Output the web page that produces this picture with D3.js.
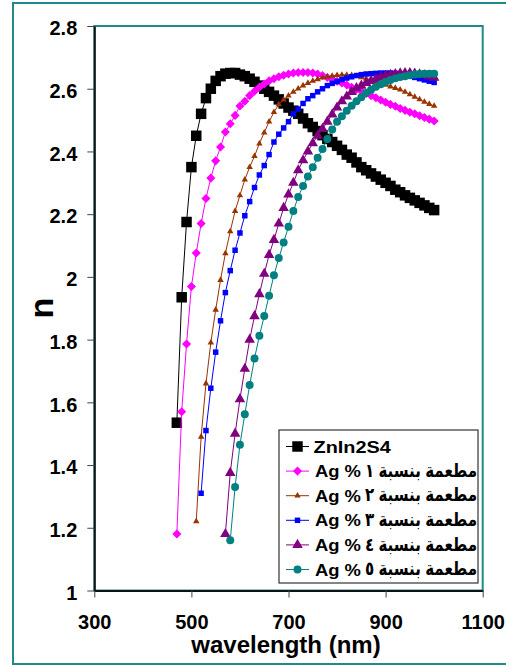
<!DOCTYPE html>
<html>
<head>
<meta charset="utf-8">
<script src="https://cdn.jsdelivr.net/npm/d3@7"></script>
<style>
  body { margin: 0; background: #fff; }
  svg { display: block; }
  text { font-family: "Liberation Sans", Arial, "DejaVu Sans", sans-serif; font-weight: bold; }
</style>
</head>
<body>
<script>
// wavelength grid (nm) shared by all series
var wavelengths = [470, 480, 490, 500, 510, 520, 530, 540, 550, 560, 570, 580, 590, 600,
  610, 620, 630, 640, 650, 660, 670, 680, 690, 700, 710, 720, 730, 740, 750, 760, 770, 780, 790, 800,
  810, 820, 830, 840, 850, 860, 870, 880, 890, 900, 910, 920, 930, 940, 950, 960, 970, 980, 990, 1000];

var nZn = [1.535, 1.935, 2.175, 2.35, 2.45, 2.52, 2.57, 2.60, 2.625, 2.64, 2.648, 2.65, 2.65, 2.645,
  2.64, 2.632, 2.622, 2.61, 2.60, 2.59, 2.578, 2.566, 2.553, 2.54, 2.53, 2.52, 2.505, 2.49, 2.478, 2.465,
  2.452, 2.44, 2.43, 2.418, 2.405, 2.39, 2.38, 2.365, 2.35, 2.34, 2.33, 2.32, 2.31, 2.30, 2.29, 2.278,
  2.27, 2.26, 2.252, 2.244, 2.236, 2.228, 2.22, 2.213];

var nAg1 = [1.18, 1.57, 1.786, 1.969, 2.076, 2.17, 2.25, 2.315, 2.37, 2.414, 2.462, 2.488, 2.515, 2.545,
  2.56, 2.578, 2.592, 2.605, 2.615, 2.625, 2.632, 2.638, 2.643, 2.647, 2.65, 2.652, 2.652, 2.652, 2.65, 2.647,
  2.642, 2.636, 2.63, 2.624, 2.618, 2.612, 2.605, 2.598, 2.592, 2.585, 2.578, 2.571, 2.564, 2.557, 2.55, 2.544,
  2.537, 2.531, 2.525, 2.52, 2.514, 2.508, 2.503, 2.497];

var nAg2 = [null, null, null, null, 1.22, 1.49, 1.66, 1.79, 1.895, 1.99, 2.075, 2.145, 2.21, 2.26,
  2.31, 2.35, 2.385, 2.425, 2.46, 2.495, 2.525, 2.55, 2.565, 2.578, 2.59, 2.60, 2.61, 2.618, 2.625, 2.63,
  2.635, 2.638, 2.641, 2.643, 2.644, 2.644, 2.643, 2.64, 2.636, 2.632, 2.628, 2.624, 2.618, 2.612, 2.607, 2.602,
  2.597, 2.59, 2.582, 2.574, 2.566, 2.558, 2.551, 2.545];

var nAg3 = [null, null, null, null, null, 1.31, 1.51, 1.645, 1.76, 1.86, 1.95, 2.02, 2.085, 2.14,
  2.195, 2.24, 2.285, 2.325, 2.355, 2.39, 2.43, 2.455, 2.475, 2.495, 2.52, 2.535, 2.553, 2.568, 2.578, 2.59,
  2.60, 2.61, 2.617, 2.623, 2.629, 2.634, 2.638, 2.642, 2.645, 2.647, 2.648, 2.649, 2.65, 2.65, 2.65, 2.649,
  2.647, 2.644, 2.64, 2.636, 2.632, 2.628, 2.624, 2.62];

var nAg4 = [null, null, null, null, null, null, null, null, null, null, 1.18, 1.375, 1.50, 1.61,
  1.707, 1.80, 1.875, 1.945, 2.01, 2.07, 2.118, 2.17, 2.22, 2.263, 2.30, 2.34, 2.372, 2.40, 2.426, 2.45,
  2.472, 2.495, 2.518, 2.54, 2.56, 2.575, 2.59, 2.602, 2.61, 2.618, 2.625, 2.631, 2.637, 2.641, 2.644, 2.647,
  2.649, 2.65, 2.65, 2.648, 2.646, 2.643, 2.639, 2.635];

var nAg5 = [null, null, null, null, null, null, null, null, null, null, null, 1.16, 1.33, 1.465,
  1.562, 1.655, 1.74, 1.812, 1.875, 1.94, 2.005, 2.06, 2.11, 2.16, 2.21, 2.255, 2.29, 2.32, 2.35, 2.38,
  2.408, 2.44, 2.47, 2.495, 2.512, 2.53, 2.546, 2.56, 2.573, 2.586, 2.597, 2.606, 2.614, 2.622, 2.628, 2.633,
  2.637, 2.64, 2.643, 2.645, 2.647, 2.648, 2.648, 2.648];

// legend labels: latin part and arabic part ("مطعمة بنسبة n % Ag")
var seriesLatin = ["ZnIn2S4", "Ag %", "Ag %", "Ag %", "Ag %", "Ag %"];
var seriesArabic = [null, "مطعمة بنسبة ١", "مطعمة بنسبة ٢", "مطعمة بنسبة ٣", "مطعمة بنسبة ٤", "مطعمة بنسبة ٥"];
var seriesValues = [nZn, nAg1, nAg2, nAg3, nAg4, nAg5];

var xTicks = [300, 500, 700, 900, 1100];
var yTicks = [1, 1.2, 1.4, 1.6, 1.8, 2, 2.2, 2.4, 2.6, 2.8];

// marker styles per series
var styles = [
  { color: "#000000", type: d3.symbolSquare, size: 110, rotate: 0 },
  { color: "#ff00ff", type: d3.symbolSquare, size: 41, rotate: 45 },
  { color: "#993300", type: d3.symbolTriangle, size: 18, rotate: 0 },
  { color: "#0000ff", type: d3.symbolSquare, size: 30, rotate: 0 },
  { color: "#800080", type: d3.symbolTriangle, size: 48, rotate: 0 },
  { color: "#008080", type: d3.symbolCircle, size: 50, rotate: 0 }
];

var width = 506, height = 665;
var plot = { left: 94.3, right: 482.7, top: 26, bottom: 590.5 };

var x = d3.scaleLinear().domain([300, 1100]).range([plot.left, plot.right]);
var y = d3.scaleLinear().domain([1, 2.8]).range([plot.bottom, plot.top]);

var svg = d3.select("body").append("svg").attr("width", width).attr("height", height);

// outer chart border
svg.append("rect")
  .attr("x", 13).attr("y", 3).attr("width", 520).attr("height", 661)
  .attr("fill", "#fff").attr("stroke", "#1f8a8a").attr("stroke-width", 2);

// plot area border
svg.append("rect")
  .attr("x", plot.left).attr("y", plot.top)
  .attr("width", plot.right - plot.left).attr("height", plot.bottom - plot.top)
  .attr("fill", "none").attr("stroke", "#1f8a8a").attr("stroke-width", 2);

var line = d3.line()
  .x(function(d) { return x(d.w); })
  .y(function(d) { return y(d.n); });

var chartGroup = svg.append("g").attr("class", "series");

seriesValues.forEach(function(vals, i) {
  var st = styles[i];
  var pts = wavelengths.map(function(w, j) { return { w: w, n: vals[j] }; })
    .filter(function(d) { return d.n != null; });
  var g = chartGroup.append("g");
  g.append("path")
    .attr("d", line(pts))
    .attr("fill", "none")
    .attr("stroke", st.color)
    .attr("stroke-width", 1);
  g.selectAll("path.pt").data(pts).enter().append("path")
    .attr("class", "pt")
    .attr("d", d3.symbol().type(st.type).size(st.size))
    .attr("transform", function(d) {
      return "translate(" + x(d.w) + "," + y(d.n) + ") rotate(" + st.rotate + ")";
    })
    .attr("fill", st.color);
});

// axes
var xAxis = d3.axisBottom(x).tickValues(xTicks).tickSize(7).tickSizeOuter(0).tickPadding(17)
  .tickFormat(function(d) { return d; });
var yAxis = d3.axisLeft(y).tickValues(yTicks).tickSize(7).tickSizeOuter(0).tickPadding(10)
  .tickFormat(function(d) { return d; });

var gx = svg.append("g").attr("class", "axis x")
  .attr("transform", "translate(0," + plot.bottom + ")").call(xAxis);
var gy = svg.append("g").attr("class", "axis y")
  .attr("transform", "translate(" + plot.left + ",0)").call(yAxis);

[gx, gy].forEach(function(g) {
  g.select(".domain").attr("stroke", "#111").attr("stroke-width", 2);
  g.selectAll(".tick line").attr("stroke", "#444");
  g.selectAll(".tick text").attr("fill", "#000").style("font-size", "20px")
    .style("font-family", "'Liberation Sans', Arial, sans-serif").style("font-weight", "bold");
});
gy.selectAll(".tick text").attr("dy", "0.44em");

// axis titles
svg.append("text")
  .attr("x", 286).attr("y", 653)
  .attr("text-anchor", "middle")
  .style("font-size", "24px")
  .text("wavelength (nm)");

svg.append("text")
  .attr("transform", "translate(52.7,308) rotate(-90)")
  .attr("text-anchor", "middle")
  .style("font-size", "34px")
  .text("n");

// legend
var legend = svg.append("g").attr("class", "legend");
legend.append("rect")
  .attr("x", 279).attr("y", 430).attr("width", 199).attr("height", 153)
  .attr("fill", "#fff").attr("stroke", "#333").attr("stroke-width", 1.2);

// stretch a label so it covers [left, right] like in the original
function fitText(t, left, right, cy) {
  var bb = t.node().getBBox();
  var sx = (right - left) / bb.width;
  t.attr("transform", "translate(" + (left - bb.x * sx) + "," + cy + ") scale(" + sx + ",1)");
}

seriesLatin.forEach(function(name, i) {
  var st = styles[i];
  var cy = 446.5 + i * 24.6;
  legend.append("line")
    .attr("x1", 286).attr("x2", 309).attr("y1", cy).attr("y2", cy)
    .attr("stroke", st.color).attr("stroke-width", 1);
  legend.append("path")
    .attr("d", d3.symbol().type(st.type).size(st.size))
    .attr("transform", "translate(297.5," + cy + ") rotate(" + st.rotate + ")")
    .attr("fill", st.color);
  var t = legend.append("text")
    .attr("dy", "0.36em")
    .style("font-size", "17px")
    .text(name);
  if (i === 0) {
    fitText(t, 313.5, 391.5, cy);
  } else {
    fitText(t, 315, 361, cy);
    var a = legend.append("text")
      .attr("dy", "0.3em")
      .attr("direction", "rtl")
      .style("font-size", "19px")
      .text(seriesArabic[i]);
    fitText(a, 365, 477, cy);
  }
});
</script>
</body>
</html>
